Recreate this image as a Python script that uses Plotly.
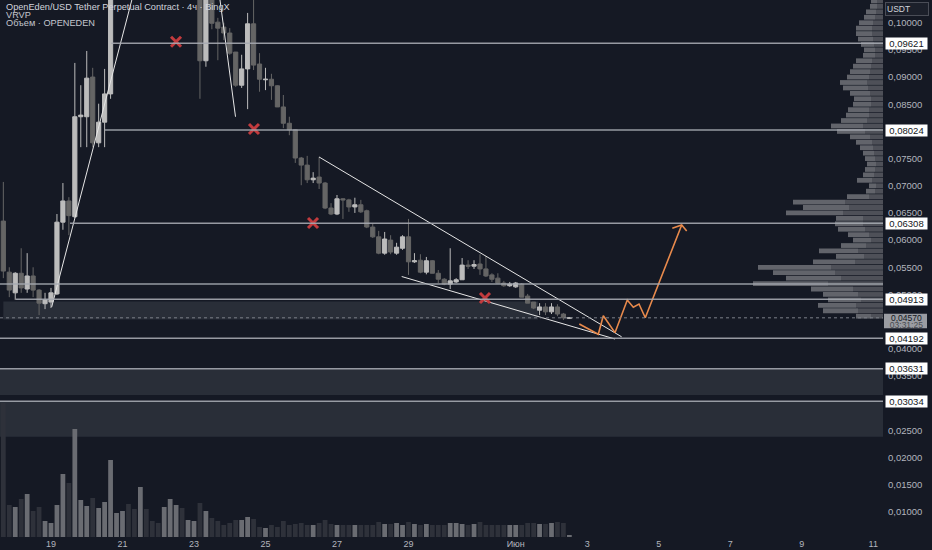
import pandas as pd
import plotly.graph_objects as go

### Data -------------------------------------------------------------------

# 4h candles, OPENEDEN/USDT perpetual (BingX); candles 19-32 sit above the visible window
candle_times = pd.date_range("2025-05-17 16:00", periods=96, freq="4h")

opens = [0.0635, 0.0541, 0.0503, 0.0539, 0.0510, 0.0534, 0.0508, 0.0483, 0.0486, 0.0501,
         0.0633, 0.0672, 0.0643, 0.0827, 0.0827, 0.0900, 0.0779, 0.0817, 0.0869, 0.1080,
         0.1120, 0.1160, 0.1120, 0.1090, 0.1180, 0.1150, 0.1130, 0.1110, 0.1150, 0.1190,
         0.1210, 0.1170, 0.1185, 0.1200, 0.0930, 0.1060, 0.1001, 0.0992, 0.0981, 0.0946,
         0.0885, 0.0915, 0.0998, 0.0924, 0.0895, 0.0896, 0.0884, 0.0845, 0.0815, 0.0803,
         0.0751, 0.0738, 0.0711, 0.0716, 0.0705, 0.0659, 0.0648, 0.0676, 0.0674, 0.0661,
         0.0665, 0.0654, 0.0624, 0.0606, 0.0576, 0.0600, 0.0576, 0.0585, 0.0606, 0.0560,
         0.0563, 0.0541, 0.0562, 0.0539, 0.0528, 0.0519, 0.0523, 0.0527, 0.0554, 0.0552,
         0.0556, 0.0547, 0.0536, 0.0530, 0.0521, 0.0516, 0.0514, 0.0519, 0.0497, 0.0486,
         0.0471, 0.0477, 0.0468, 0.0477, 0.0464, 0.0456]
highs = [0.0707, 0.0550, 0.0541, 0.0585, 0.0576, 0.0550, 0.0510, 0.0503, 0.0512, 0.0648,
         0.0705, 0.0679, 0.0926, 0.0885, 0.0948, 0.0917, 0.0851, 0.0915, 0.1110, 0.1150,
         0.1190, 0.1180, 0.1140, 0.1220, 0.1200, 0.1165, 0.1145, 0.1170, 0.1230, 0.1250,
         0.1225, 0.1200, 0.1215, 0.1210, 0.1090, 0.1075, 0.1009, 0.1000, 0.0990, 0.0946,
         0.0941, 0.1018, 0.1045, 0.0944, 0.0917, 0.0906, 0.0885, 0.0867, 0.0827, 0.0804,
         0.0753, 0.0755, 0.0725, 0.0753, 0.0707, 0.0668, 0.0683, 0.0677, 0.0676, 0.0678,
         0.0674, 0.0656, 0.0630, 0.0617, 0.0615, 0.0609, 0.0595, 0.0609, 0.0639, 0.0576,
         0.0574, 0.0569, 0.0563, 0.0545, 0.0530, 0.0585, 0.0530, 0.0567, 0.0563, 0.0563,
         0.0574, 0.0571, 0.0539, 0.0539, 0.0525, 0.0523, 0.0523, 0.0521, 0.0501, 0.0486,
         0.0484, 0.0484, 0.0484, 0.0482, 0.0466, 0.0458]
lows = [0.0530, 0.0495, 0.0490, 0.0503, 0.0503, 0.0495, 0.0462, 0.0473, 0.0475, 0.0499,
        0.0619, 0.0609, 0.0641, 0.0771, 0.0771, 0.0771, 0.0771, 0.0771, 0.0860, 0.1065,
        0.1100, 0.1095, 0.1070, 0.1075, 0.1130, 0.1115, 0.1090, 0.1095, 0.1135, 0.1170,
        0.1150, 0.1155, 0.1170, 0.0860, 0.0919, 0.0988, 0.0931, 0.0968, 0.0941, 0.0882,
        0.0880, 0.0841, 0.0913, 0.0873, 0.0876, 0.0858, 0.0845, 0.0806, 0.0793, 0.0742,
        0.0701, 0.0705, 0.0705, 0.0694, 0.0657, 0.0646, 0.0646, 0.0639, 0.0652, 0.0650,
        0.0650, 0.0622, 0.0604, 0.0574, 0.0573, 0.0574, 0.0573, 0.0582, 0.0536, 0.0558,
        0.0539, 0.0537, 0.0539, 0.0521, 0.0517, 0.0510, 0.0521, 0.0527, 0.0547, 0.0547,
        0.0536, 0.0532, 0.0523, 0.0521, 0.0514, 0.0514, 0.0512, 0.0495, 0.0484, 0.0473,
        0.0462, 0.0462, 0.0464, 0.0460, 0.0453, 0.0455]
closes = [0.0543, 0.0508, 0.0539, 0.0512, 0.0534, 0.0508, 0.0484, 0.0490, 0.0503, 0.0633,
          0.0672, 0.0645, 0.0827, 0.0830, 0.0898, 0.0779, 0.0817, 0.0869, 0.1080, 0.1120,
          0.1160, 0.1120, 0.1090, 0.1180, 0.1150, 0.1130, 0.1110, 0.1150, 0.1190, 0.1210,
          0.1170, 0.1185, 0.1200, 0.0930, 0.1060, 0.0999, 0.0990, 0.0981, 0.0944, 0.0885,
          0.0915, 0.0998, 0.0922, 0.0896, 0.0896, 0.0884, 0.0845, 0.0815, 0.0803, 0.0751,
          0.0738, 0.0711, 0.0714, 0.0705, 0.0659, 0.0648, 0.0676, 0.0674, 0.0661, 0.0665,
          0.0652, 0.0624, 0.0606, 0.0576, 0.0602, 0.0578, 0.0587, 0.0606, 0.0560, 0.0562,
          0.0541, 0.0562, 0.0539, 0.0528, 0.0519, 0.0525, 0.0527, 0.0554, 0.0552, 0.0555,
          0.0547, 0.0534, 0.0528, 0.0521, 0.0516, 0.0519, 0.0521, 0.0495, 0.0484, 0.0475,
          0.0477, 0.0468, 0.0477, 0.0464, 0.0457, 0.0457]
# volume per candle, millions
volumes = [13.4, 3.2, 3.0, 3.8, 4.3, 2.6, 3.0, 1.6, 1.4, 3.2, 6.3, 5.4, 10.8, 3.7, 3.1, 3.9,
           2.9, 3.5, 7.7, 2.4, 2.6, 3.3, 2.8, 5.0, 2.8, 1.6, 1.4, 3.0, 3.8, 3.2, 2.9, 1.7,
           1.6, 3.4, 2.6, 1.9, 1.6, 1.2, 1.4, 1.7, 1.7, 2.0, 1.8, 1.0, 0.9, 1.2, 1.0, 1.6,
           1.2, 1.3, 1.4, 1.2, 1.2, 1.4, 1.7, 1.3, 1.2, 1.2, 1.2, 1.2, 1.2, 1.2, 1.2, 1.5,
           1.3, 1.3, 1.4, 1.2, 1.5, 1.3, 1.2, 1.3, 1.2, 1.2, 1.2, 1.4, 1.4, 1.3, 1.2, 1.3,
           1.5, 1.2, 1.2, 1.2, 1.2, 1.2, 1.2, 1.2, 1.4, 1.4, 1.3, 1.3, 1.4, 1.5, 1.4, 0.2]

# visible-range volume profile (VRVP): row price, total size, down part
vp_price = [0.104, 0.103, 0.102, 0.101, 0.100, 0.099, 0.098, 0.097, 0.096, 0.095,
            0.094, 0.093, 0.092, 0.091, 0.090, 0.089, 0.088, 0.087, 0.086, 0.085,
            0.084, 0.083, 0.082, 0.081, 0.080, 0.079, 0.078, 0.077, 0.076, 0.075,
            0.074, 0.073, 0.072, 0.071, 0.070, 0.069, 0.068, 0.067, 0.066, 0.065,
            0.064, 0.063, 0.062, 0.061, 0.060, 0.059, 0.058, 0.057, 0.056, 0.055,
            0.054, 0.053, 0.052, 0.051, 0.050, 0.049, 0.048, 0.047, 0.046]
vp_total = [12, 13, 17, 19, 24, 27, 27, 25, 22, 19, 20, 27, 30, 33, 36, 43, 40, 33, 29, 30,
            35, 37, 42, 52, 46, 33, 27, 23, 20, 18, 16, 18, 20, 26, 14, 17, 36, 90, 80, 97,
            47, 48, 45, 35, 30, 42, 64, 47, 70, 125, 110, 97, 130, 72, 60, 55, 65, 60, 27]
vp_down = [6, 6, 7, 8, 10, 11, 11, 10, 9, 8, 8, 11, 12, 13, 14, 16, 15, 13, 12, 12,
           14, 14, 16, 20, 18, 13, 11, 10, 9, 8, 7, 8, 9, 11, 7, 8, 14, 38, 34, 40,
           20, 20, 18, 14, 12, 17, 25, 19, 28, 52, 48, 42, 55, 30, 25, 22, 27, 25, 12]

# horizontal levels drawn on the chart
level_prices = [0.09621, 0.08024, 0.06308, 0.0519, 0.04913, 0.04192, 0.03631, 0.03034]
level_starts = ["2025-05-20 16:15", "2025-05-20 12:15", "2025-05-19 12:45", "2025-05-17 13:46",
                "2025-05-18 00:30", "2025-05-17 13:46", "2025-05-17 13:46", "2025-05-17 13:46"]
label_prices = [0.09621, 0.08024, 0.06308, 0.04913, 0.04192, 0.03631, 0.03034]
label_texts = ["0,09621", "0,08024", "0,06308", "0,04913", "0,04192", "0,03631", "0,03034"]
last_price = 0.0457
last_texts = ["0,04570", "03:31:25"]

# shaded zones: (x0, x1, y0, y1)
zones = [("2025-05-17 16:00", "2025-06-01 15:00", 0.0454, 0.0487),
         ("2025-05-17 13:46", "2025-06-11 06:33", 0.0315, 0.03631),
         ("2025-05-17 13:46", "2025-06-11 06:33", 0.0238, 0.03034)]

# hand-drawn trend lines
trend_lines = [(["2025-05-19 00:28", "2025-05-21 08:00"], [0.0477, 0.1060]),
               (["2025-05-23 17:27", "2025-05-24 03:52"], [0.1042, 0.0827]),
               (["2025-05-26 11:55", "2025-06-03 23:07"], [0.0753, 0.0422]),
               (["2025-05-28 19:26", "2025-06-03 18:37"], [0.0533, 0.0418])]

# orange projected path + arrow head
path_x = ["2025-06-02 18:40", "2025-06-03 07:25", "2025-06-03 10:47", "2025-06-03 18:37",
          "2025-06-04 02:53", "2025-06-04 06:55", "2025-06-04 10:45", "2025-06-04 14:58",
          "2025-06-05 15:25"]
path_y = [0.04456, 0.04267, 0.04609, 0.04297, 0.04898, 0.04764, 0.04824, 0.04572, 0.06278]
arrow_x = ["2025-06-05 09:06", "2025-06-05 15:25", "2025-06-05 18:46"]
arrow_y = [0.06217, 0.06278, 0.06168]

# red crosses
cross_x = ["2025-05-22 11:56", "2025-05-24 16:16", "2025-05-26 07:54", "2025-05-31 03:21"]
cross_y = [0.0965, 0.08044, 0.06315, 0.04935]

x_ticks = ["2025-05-19", "2025-05-21", "2025-05-23", "2025-05-25", "2025-05-27", "2025-05-29",
           "2025-06-01", "2025-06-03", "2025-06-05", "2025-06-07", "2025-06-09", "2025-06-11"]
x_ticktext = ["19", "21", "23", "25", "27", "29", "Июн", "3", "5", "7", "9", "11"]
y_ticks = [0.1, 0.095, 0.09, 0.085, 0.075, 0.07, 0.065, 0.06, 0.055, 0.05, 0.04, 0.035,
           0.025, 0.02, 0.015, 0.01]
y_ticktext = ["0,10000", "0,09500", "0,09000", "0,08500", "0,07500", "0,07000", "0,06500",
              "0,06000", "0,05500", "0,05000", "0,04000", "0,03500", "0,02500", "0,02000",
              "0,01500", "0,01000"]

title_lines = ["OpenEden/USD Tether Perpetual Contract · 4ч · BingX", "VRVP", "Объем · OPENEDEN"]

### Style -------------------------------------------------------------------
BG = "#151924"
BULL = "#bcbcbc"
BEAR = "#656565"
TXT = "#b2b5be"
FONT = "Liberation Sans"
X_RANGE = ["2025-05-17 13:46", "2025-06-11 06:33"]
PLOT_W = 883  # plot area width in px (932 - right margin)

### Figure ------------------------------------------------------------------
fig = go.Figure()

# volume profile on the right edge (own reversed x axis, grows leftwards)
fig.add_trace(go.Bar(y=vp_price, x=vp_down, orientation="h", xaxis="x3", yaxis="y",
                     width=0.00088, marker=dict(color="rgba(88,90,97,0.85)", line_width=0),
                     hoverinfo="skip"))
fig.add_trace(go.Bar(y=vp_price, x=[t - d for t, d in zip(vp_total, vp_down)], base=vp_down,
                     orientation="h", xaxis="x3", yaxis="y", width=0.00088,
                     marker=dict(color="rgba(112,114,120,0.85)", line_width=0),
                     hoverinfo="skip"))

fig.add_trace(go.Candlestick(
    x=candle_times, open=opens, high=highs, low=lows, close=closes,
    increasing=dict(line=dict(color=BULL, width=1), fillcolor=BULL),
    decreasing=dict(line=dict(color=BEAR, width=1), fillcolor=BEAR),
    whiskerwidth=0, hoverinfo="skip"))

vol_colors = ["#6a6c72" if c >= o else "#2e313a" for o, c in zip(opens, closes)]
fig.add_trace(go.Bar(x=candle_times, y=volumes, yaxis="y2", marker=dict(color=vol_colors, line_width=0),
                     width=4 * 3600 * 1000 * 0.8, hoverinfo="skip"))

for xs, ys in trend_lines:
    fig.add_trace(go.Scatter(x=xs, y=ys, mode="lines", line=dict(color="#e6e6e6", width=1),
                             hoverinfo="skip"))

fig.add_trace(go.Scatter(x=path_x, y=path_y, mode="lines", line=dict(color="#e88a4c", width=1.6),
                         hoverinfo="skip"))
fig.add_trace(go.Scatter(x=arrow_x, y=arrow_y, mode="lines", line=dict(color="#e88a4c", width=1.6),
                         hoverinfo="skip"))

fig.add_trace(go.Scatter(x=cross_x, y=cross_y, mode="markers",
                         marker=dict(symbol="x-thin", size=10, line=dict(color="#c23b3e", width=3)),
                         hoverinfo="skip"))

shapes = []
for x0, x1, y0, y1 in zones:
    shapes.append(dict(type="rect", xref="x", yref="y", x0=x0, x1=x1, y0=y0, y1=y1,
                       fillcolor="rgba(125,128,140,0.2)", line_width=0, layer="below"))
for p, s in zip(level_prices, level_starts):
    shapes.append(dict(type="line", xref="x", yref="y", x0=s, x1=X_RANGE[1], y0=p, y1=p,
                       line=dict(color="rgba(165,168,176,0.9)", width=1.5)))
shapes.append(dict(type="line", xref="x", yref="y", x0=X_RANGE[0], x1=X_RANGE[1],
                   y0=last_price, y1=last_price, line=dict(color="#7d808a", width=1, dash="dot")))
# grey tag behind the last price + countdown
shapes.append(dict(type="rect", xref="paper", yref="y", ysizemode="pixel", yanchor=last_price,
                   x0=1 + 1 / PLOT_W, x1=1 + 44 / PLOT_W, y0=-10.5, y1=4,
                   fillcolor="#9a9ca2", line_width=0))

annotations = []
for p, t in zip(label_prices, label_texts):
    annotations.append(dict(xref="paper", yref="y", x=1, y=p, xanchor="left", xshift=2,
                            text=t, showarrow=False, bgcolor="#ffffff", width=41, height=11,
                            font=dict(family=FONT, size=9.5, color="#131722"), borderpad=0))
for i, t in enumerate(last_texts):
    annotations.append(dict(xref="paper", yref="y", x=1, y=last_price, xanchor="left", xshift=2,
                            yanchor="middle", yshift=0 - 7 * i, width=41,
                            text=t, showarrow=False, borderpad=0,
                            font=dict(family=FONT, size=8.5, color="#131722" if i == 0 else "#4a4c52")))
annotations.append(dict(xref="paper", yref="paper", x=1, y=1, xanchor="left", yanchor="top",
                        xshift=2, yshift=-2, text="USDT", align="left", width=40, showarrow=False,
                        bgcolor="#1c202b", bordercolor="#4a4d57", borderwidth=1, borderpad=1,
                        font=dict(family=FONT, size=8.5, color="#d1d4dc")))

for i, t in enumerate(title_lines):
    annotations.append(dict(xref="paper", yref="paper", x=0, y=1, xanchor="left", yanchor="middle",
                            xshift=5, yshift=-7.3 - i * 7.7, text=t, showarrow=False, borderpad=0,
                            font=dict(family=FONT, size=9.2, color="#d1d4dc" if i == 0 else "#c3c6ce")))

fig.update_layout(
    width=932, height=550,
    margin=dict(l=0, r=49, t=0, b=13),
    paper_bgcolor=BG, plot_bgcolor=BG,
    showlegend=False, barmode="overlay", boxgap=0.3, boxgroupgap=0,
    font=dict(family=FONT, color=TXT),
    shapes=shapes, annotations=annotations,
    xaxis=dict(type="date", range=X_RANGE, showgrid=False, zeroline=False, showline=False,
               rangeslider=dict(visible=False), tickvals=x_ticks, ticktext=x_ticktext,
               ticks="", tickfont=dict(size=9, color=TXT)),
    yaxis=dict(side="right", range=[0.00537, 0.10418], showgrid=False, zeroline=False,
               showline=False, tickvals=y_ticks, ticktext=y_ticktext, ticks="",
               ticklabelstandoff=4, tickfont=dict(size=9.5, color=TXT)),
    yaxis2=dict(overlaying="y", range=[0, 53.7], visible=False),
    xaxis3=dict(overlaying="x", anchor="y", range=[883, 0], visible=False),
)

# page body has a default 8px margin; drop it so the chart sits at the window corner
fig.write_html("out.html", config={"displayModeBar": False},
               post_script="document.body.style.margin='0';document.body.style.background='%s';" % BG)
